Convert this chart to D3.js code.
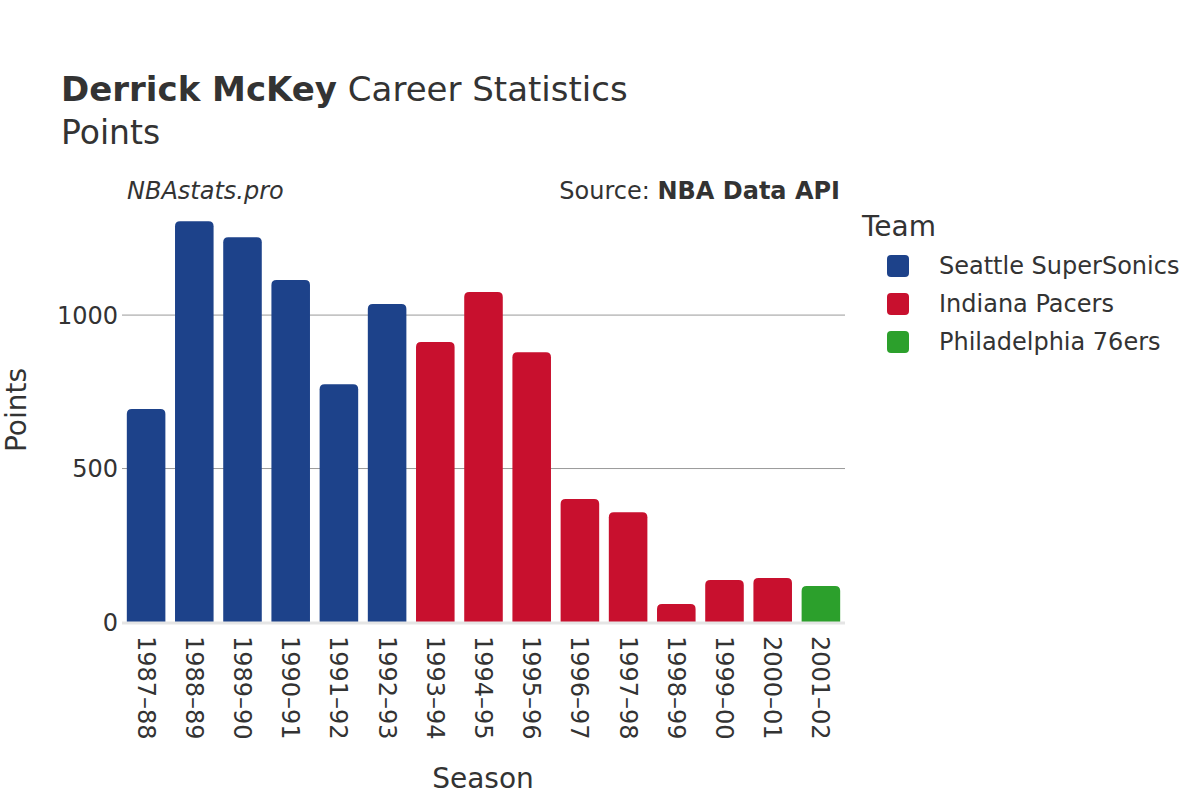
<!DOCTYPE html>
<html><head><meta charset="utf-8">
<script src="https://cdn.jsdelivr.net/npm/d3@7"></script>
<style>body{margin:0;background:#fff;} svg{font-family:"DejaVu Sans",sans-serif;}</style>
</head><body>
<svg id="c" width="1200" height="800"></svg>
<script>
const seasons = ["1987\u201388","1988\u201389","1989\u201390","1990\u201391","1991\u201392","1992\u201393","1993\u201394","1994\u201395","1995\u201396","1996\u201397","1997\u201398","1998\u201399","1999\u201300","2000\u201301","2001\u201302"];
const points = [694, 1306, 1254, 1114, 775, 1036, 912, 1075, 879, 401, 358, 59, 137, 143, 117];
const teams = ["SEA","SEA","SEA","SEA","SEA","SEA","IND","IND","IND","IND","IND","IND","IND","IND","PHI"];
const teamKeys = ["SEA","IND","PHI"];
const teamNames = ["Seattle SuperSonics","Indiana Pacers","Philadelphia 76ers"];
const teamColors = ["#1d428a","#c8102e","#2ca02c"];
const yTicks = [0, 500, 1000];

const svg = d3.select("#c");
const m = {l:122, r:845, t:200, b:622};
const x = d3.scaleBand().domain(seasons).range([m.l, m.r]).paddingInner(0.2).paddingOuter(0.1);
const y = d3.scaleLinear().domain([0, 1375]).range([m.b, m.t]);
const color = d3.scaleOrdinal().domain(teamKeys).range(teamColors);
const txt = "#333";

// grid
svg.append("g").selectAll("line").data(yTicks.filter(d=>d>0)).join("line")
  .attr("x1", m.l).attr("x2", m.r).attr("y1", d=>y(d)).attr("y2", d=>y(d))
  .attr("stroke", "#999").attr("stroke-width", 1);

// bars
const data = seasons.map((s,i)=>({s, v:points[i], t:teams[i]}));
svg.append("g").selectAll("path").data(data).join("path")
  .attr("fill", d=>color(d.t))
  .attr("d", d=>{
    const x0 = x(d.s), w = x.bandwidth(), y0 = y(d.v), y1 = y(0);
    const r = Math.min(5, (y1-y0)/2);
    return `M${x0},${y1}V${y0+r}Q${x0},${y0} ${x0+r},${y0}H${x0+w-r}Q${x0+w},${y0} ${x0+w},${y0+r}V${y1}Z`;
  });

// zero line
svg.append("line").attr("x1", m.l).attr("x2", m.r).attr("y1", y(0)+1).attr("y2", y(0)+1)
  .attr("stroke", "#e5e5e5").attr("stroke-width", 3);

// y axis
const ya = svg.append("g").attr("transform", `translate(${m.l},0)`)
  .call(d3.axisLeft(y).tickValues(yTicks).tickFormat(d3.format("d")).tickSize(0).tickPadding(4));
ya.select(".domain").remove();
ya.selectAll("text").attr("font-size", 24).attr("fill", txt).attr("font-family","DejaVu Sans").attr("dy","0.35em");

// x axis
const xa = svg.append("g").attr("transform", `translate(0,${m.b})`)
  .call(d3.axisBottom(x).tickSize(0));
xa.select(".domain").remove();
xa.selectAll("text").attr("font-size", 24).attr("fill", txt).attr("font-family","DejaVu Sans")
  .attr("transform", "rotate(90)").attr("text-anchor", "start")
  .attr("x", 14).attr("y", 0).attr("dy", "0.35em");

// titles
const title = svg.append("text").attr("x", 61).attr("y", 101).attr("font-size", 34).attr("fill", txt);
title.append("tspan").attr("font-weight", "bold").text("Derrick McKey");
title.append("tspan").text(" Career Statistics");
svg.append("text").attr("x", 61).attr("y", 144).attr("font-size", 33).attr("fill", txt).text("Points");

svg.append("text").attr("x", 127).attr("y", 199).attr("font-size", 24).attr("font-style","italic").attr("fill", txt).text("NBAstats.pro");
const src = svg.append("text").attr("x", 840).attr("y", 199).attr("font-size", 24).attr("text-anchor","end").attr("fill", txt);
src.append("tspan").text("Source: ");
src.append("tspan").attr("font-weight","bold").text("NBA Data API");

svg.append("text").attr("x", 483).attr("y", 788).attr("font-size", 28).attr("text-anchor","middle").attr("fill", txt).text("Season");
svg.append("text").attr("transform", "translate(26,410) rotate(-90)").attr("font-size", 28).attr("text-anchor","middle").attr("fill", txt).text("Points");

// legend
svg.append("text").attr("x", 862).attr("y", 236).attr("font-size", 28).attr("fill", txt).text("Team");
const lg = svg.append("g").selectAll("g").data(teamKeys).join("g")
  .attr("transform", (d,i)=>`translate(887,${266 + i*38})`);
lg.append("rect").attr("x", 0).attr("y", -11).attr("width", 22).attr("height", 22).attr("rx", 4)
  .attr("fill", d=>color(d));
lg.append("text").attr("x", 52).attr("y", 0).attr("dy", "0.35em").attr("font-size", 24).attr("fill", txt)
  .text((d,i)=>teamNames[i]);
</script>
</body></html>
